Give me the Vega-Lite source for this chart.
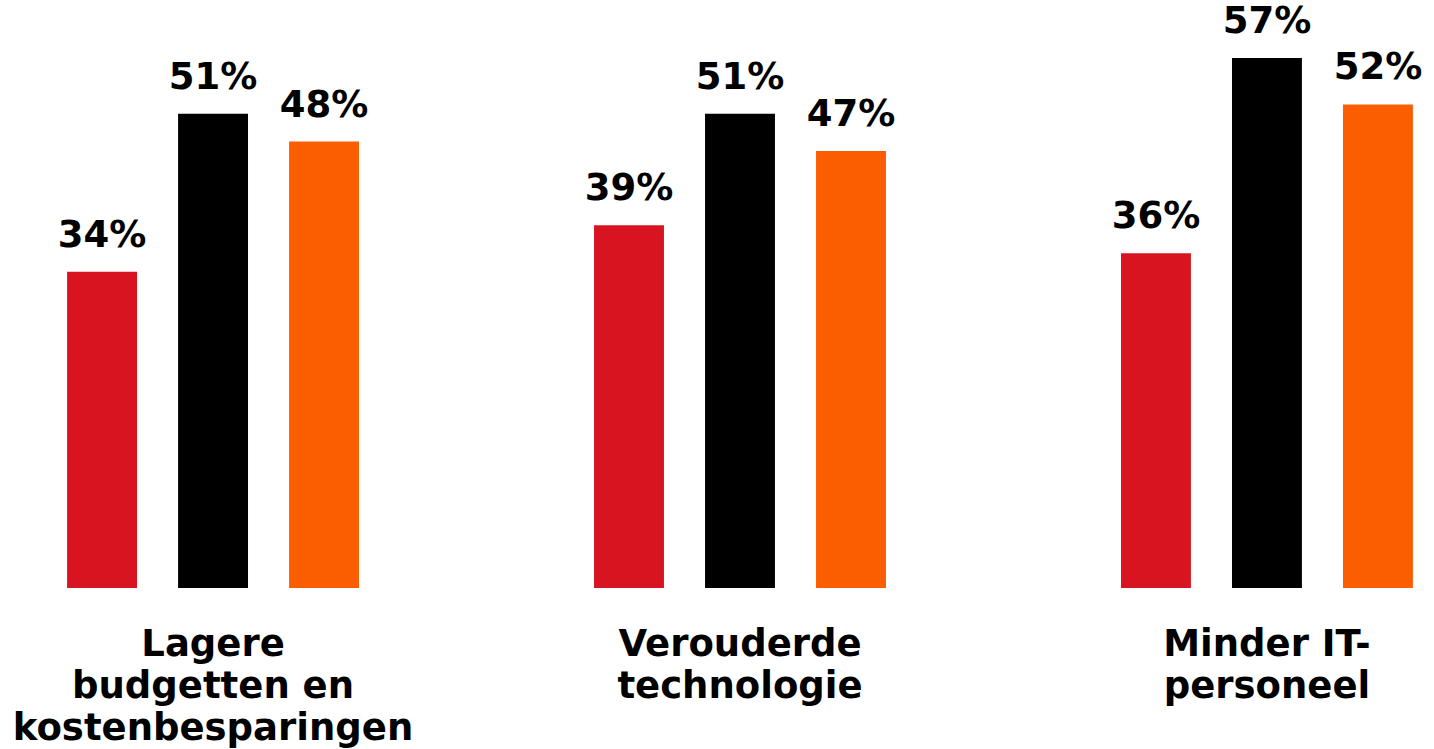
{
  "$schema": "https://vega.github.io/schema/vega-lite/v6.json",
  "width": 1388,
  "height": 558,
  "autosize": {"type": "none"},
  "padding": {"left": 46, "top": 30, "right": 0, "bottom": 161},
  "background": "white",
  "config": {"view": {"stroke": null}},
  "data": {
    "values": [
      {"categorie": "Lagere budgetten en kostenbesparingen", "reeks": "Reeks 1", "waarde": 0.34},
      {"categorie": "Lagere budgetten en kostenbesparingen", "reeks": "Reeks 2", "waarde": 0.51},
      {"categorie": "Lagere budgetten en kostenbesparingen", "reeks": "Reeks 3", "waarde": 0.48},
      {"categorie": "Verouderde technologie", "reeks": "Reeks 1", "waarde": 0.39},
      {"categorie": "Verouderde technologie", "reeks": "Reeks 2", "waarde": 0.51},
      {"categorie": "Verouderde technologie", "reeks": "Reeks 3", "waarde": 0.47},
      {"categorie": "Minder IT-personeel", "reeks": "Reeks 1", "waarde": 0.36},
      {"categorie": "Minder IT-personeel", "reeks": "Reeks 2", "waarde": 0.57},
      {"categorie": "Minder IT-personeel", "reeks": "Reeks 3", "waarde": 0.52}
    ]
  },
  "encoding": {
    "x": {
      "field": "categorie",
      "type": "nominal",
      "sort": null,
      "scale": {"paddingInner": 0.446, "paddingOuter": 0.04},
      "axis": {
        "title": null,
        "domain": false,
        "ticks": false,
        "labelAngle": 0,
        "labelFont": "DejaVu Sans",
        "labelFontWeight": "bold",
        "labelFontSize": 37,
        "labelColor": "black",
        "labelLineHeight": 42,
        "labelPadding": 38,
        "labelLimit": 0,
        "labelExpr": "datum.value == 'Lagere budgetten en kostenbesparingen' ? ['Lagere', 'budgetten en', 'kostenbesparingen'] : datum.value == 'Verouderde technologie' ? ['Verouderde', 'technologie'] : ['Minder IT-', 'personeel']"
      }
    },
    "xOffset": {
      "field": "reeks",
      "type": "nominal",
      "sort": null,
      "scale": {"paddingInner": 0.37, "paddingOuter": 0}
    },
    "y": {
      "field": "waarde",
      "type": "quantitative",
      "scale": {"domain": [0, 0.6], "nice": false},
      "axis": null
    }
  },
  "layer": [
    {
      "mark": {"type": "bar"},
      "encoding": {
        "color": {
          "field": "reeks",
          "type": "nominal",
          "sort": null,
          "scale": {"domain": ["Reeks 1", "Reeks 2", "Reeks 3"], "range": ["#D7141F", "#000000", "#FB5E00"]},
          "legend": null
        }
      }
    },
    {
      "mark": {
        "type": "text",
        "baseline": "alphabetic",
        "align": "center",
        "dy": -25,
        "font": "DejaVu Sans",
        "fontWeight": "bold",
        "fontSize": 37,
        "color": "black"
      },
      "encoding": {
        "text": {"field": "waarde", "type": "quantitative", "format": ".0%"}
      }
    }
  ]
}
